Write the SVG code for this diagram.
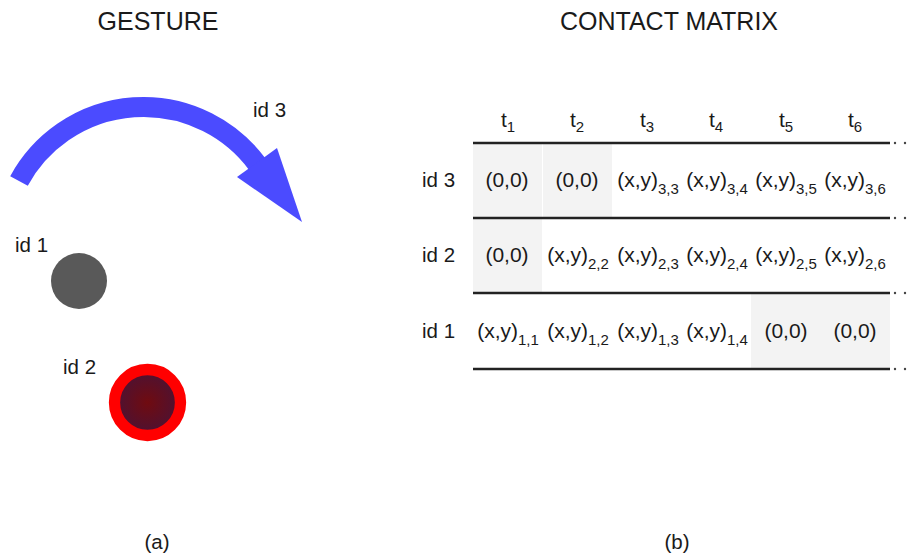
<svg xmlns="http://www.w3.org/2000/svg" width="911" height="559" viewBox="0 0 911 559">
<style>
text{font-family:"Liberation Sans",Arial,sans-serif;fill:#1a1a1a}
.title{font-size:25px;text-anchor:middle}
.lbl{font-size:20.5px}
.cell{font-size:21px;text-anchor:middle}
.sub{font-size:15px}
.rule{stroke:#222;stroke-width:2.4}
.gray{fill:#f3f3f3}
.dot{fill:#444}
</style>
<defs>
<radialGradient id="g2" cx="0.5" cy="0.5" r="0.5">
<stop offset="0" stop-color="#700b10"/>
<stop offset="1" stop-color="#4c1234"/>
</radialGradient>
</defs>
<text class="title" x="158" y="30">GESTURE</text>
<text class="title" x="669" y="30">CONTACT MATRIX</text>
<text class="lbl" x="157" y="549" text-anchor="middle">(a)</text>
<text class="lbl" x="677" y="549" text-anchor="middle">(b)</text>

<g id="gesture-id3">
<path d="M 19 181 A 141.7 141.7 0 0 1 257.5 164.5" fill="none" stroke="#4b4bff" stroke-width="20"/>
<polygon points="277,148 302,222 237,177" fill="#4b4bff"/>
<text class="lbl" x="253" y="117">id 3</text>
</g>
<g id="contact-id1">
<circle cx="79" cy="281" r="28" fill="#595959"/>
<text class="lbl" x="15" y="252">id 1</text>
</g>
<g id="contact-id2">
<circle cx="147.5" cy="402.5" r="33" fill="url(#g2)" stroke="#ff0000" stroke-width="11.3"/>
<text class="lbl" x="63" y="374">id 2</text>
</g>

<g id="matrix">
<rect class="gray" x="473" y="144" width="69" height="73"/>
<rect class="gray" x="543" y="144" width="69" height="73"/>
<rect class="gray" x="473" y="219" width="69" height="73"/>
<rect class="gray" x="751" y="294" width="139" height="74"/>
<g id="rules">
<line class="rule" x1="473" y1="143" x2="890" y2="143"/>
<line class="rule" x1="473" y1="218" x2="890" y2="218"/>
<line class="rule" x1="473" y1="293" x2="890" y2="293"/>
<line class="rule" x1="473" y1="369" x2="890" y2="369"/>
<circle class="dot" cx="895" cy="143" r="1.2"/><circle class="dot" cx="905" cy="143" r="1.2"/>
<circle class="dot" cx="895" cy="218" r="1.2"/><circle class="dot" cx="905" cy="218" r="1.2"/>
<circle class="dot" cx="895" cy="293" r="1.2"/><circle class="dot" cx="905" cy="293" r="1.2"/>
<circle class="dot" cx="895" cy="369" r="1.2"/><circle class="dot" cx="905" cy="369" r="1.2"/>
</g>
<g id="header">
<text class="cell" x="508" y="127">t<tspan class="sub" dy="5">1</tspan></text>
<text class="cell" x="577" y="127">t<tspan class="sub" dy="5">2</tspan></text>
<text class="cell" x="647" y="127">t<tspan class="sub" dy="5">3</tspan></text>
<text class="cell" x="716" y="127">t<tspan class="sub" dy="5">4</tspan></text>
<text class="cell" x="786" y="127">t<tspan class="sub" dy="5">5</tspan></text>
<text class="cell" x="855" y="127">t<tspan class="sub" dy="5">6</tspan></text>
</g>
<g id="row-id3">
<text class="lbl" x="422" y="187">id 3</text>
<text class="cell" x="507" y="187">(0,0)</text>
<text class="cell" x="577" y="187">(0,0)</text>
<text class="cell" x="648" y="187">(x,y)<tspan class="sub" dy="7">3,3</tspan></text>
<text class="cell" x="717" y="187">(x,y)<tspan class="sub" dy="7">3,4</tspan></text>
<text class="cell" x="786" y="187">(x,y)<tspan class="sub" dy="7">3,5</tspan></text>
<text class="cell" x="855" y="187">(x,y)<tspan class="sub" dy="7">3,6</tspan></text>
</g>
<g id="row-id2">
<text class="lbl" x="422" y="262">id 2</text>
<text class="cell" x="507" y="262">(0,0)</text>
<text class="cell" x="578" y="262">(x,y)<tspan class="sub" dy="7">2,2</tspan></text>
<text class="cell" x="648" y="262">(x,y)<tspan class="sub" dy="7">2,3</tspan></text>
<text class="cell" x="717" y="262">(x,y)<tspan class="sub" dy="7">2,4</tspan></text>
<text class="cell" x="786" y="262">(x,y)<tspan class="sub" dy="7">2,5</tspan></text>
<text class="cell" x="855" y="262">(x,y)<tspan class="sub" dy="7">2,6</tspan></text>
</g>
<g id="row-id1">
<text class="lbl" x="422" y="338">id 1</text>
<text class="cell" x="508" y="338">(x,y)<tspan class="sub" dy="7">1,1</tspan></text>
<text class="cell" x="578" y="338">(x,y)<tspan class="sub" dy="7">1,2</tspan></text>
<text class="cell" x="648" y="338">(x,y)<tspan class="sub" dy="7">1,3</tspan></text>
<text class="cell" x="717" y="338">(x,y)<tspan class="sub" dy="7">1,4</tspan></text>
<text class="cell" x="786" y="338">(0,0)</text>
<text class="cell" x="855" y="338">(0,0)</text>
</g>
</g>
</svg>
